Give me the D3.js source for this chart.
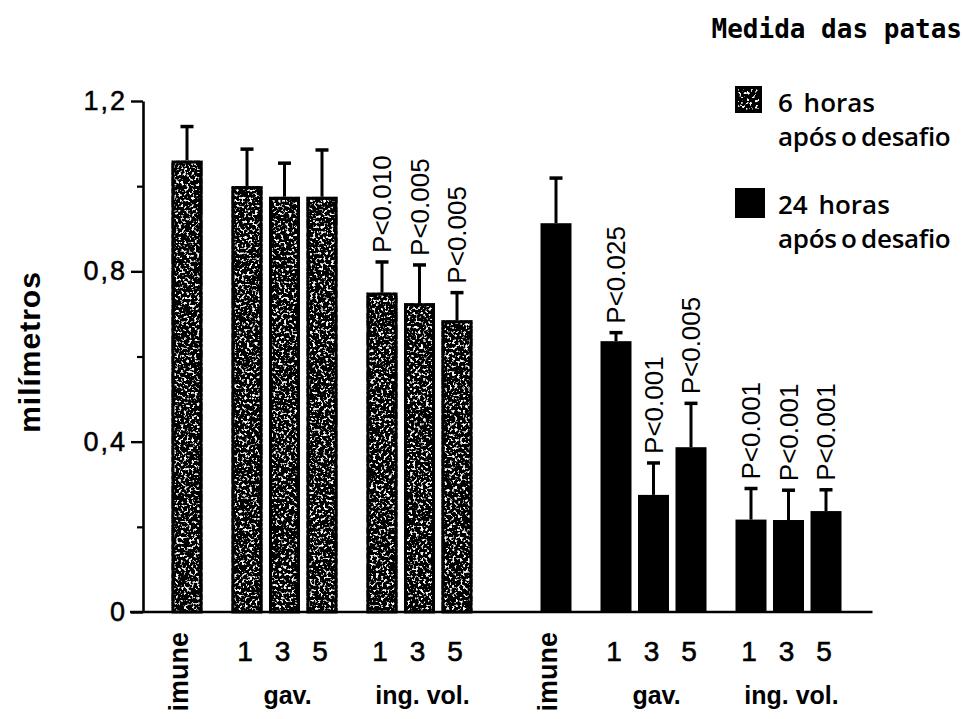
<!DOCTYPE html>
<html>
<head>
<meta charset="utf-8">
<script src="https://cdn.jsdelivr.net/npm/d3@7"></script>
<style>
  body { margin: 0; background: #fff; }
  text { fill: #000; }
</style>
</head>
<body>
<svg id="chart" width="965" height="719"></svg>
<script>
// Data
const times = ['6 horas', '24 horas']
const groups = ['imune', 'gav.', 'ing. vol.']
const doses = ['1', '3', '5']
const bars = ['imune', 'gav. 1', 'gav. 3', 'gav. 5', 'ing. vol. 1', 'ing. vol. 3', 'ing. vol. 5']
const mean6h = [1.06, 1.00, 0.975, 0.975, 0.75, 0.725, 0.685]
const sd6h = [0.08, 0.087, 0.079, 0.11, 0.072, 0.09, 0.065]
const mean24h = [0.913, 0.636, 0.275, 0.387, 0.217, 0.216, 0.237]
const sd24h = [0.106, 0.02, 0.075, 0.103, 0.073, 0.07, 0.05]
const p6h = ['', '', '', '', 'P<0.010', 'P<0.005', 'P<0.005']
const p24h = ['', 'P<0.025', 'P<0.001', 'P<0.005', 'P<0.001', 'P<0.001', 'P<0.001']
const yTicks = [0, 0.4, 0.8, 1.2]
const yMinorTicks = [0.2, 0.6, 1.0]
const yLabel = 'milímetros'
const legendTitle = 'Medida das patas'
const legendSub = 'após o desafio'

const svg = d3.select('#chart')

// Speckled fill like the scanned grey bars
const defs = svg.append('defs')
const filt = defs.append('filter').attr('id', 'speckle')
    .attr('x', 0).attr('y', 0).attr('width', 1).attr('height', 1)
filt.append('feTurbulence').attr('type', 'fractalNoise')
    .attr('baseFrequency', 0.38).attr('numOctaves', 2).attr('seed', 7).attr('result', 'noise')
filt.append('feColorMatrix').attr('in', 'noise').attr('type', 'matrix')
    .attr('values', '1 0 0 0 0  1 0 0 0 0  1 0 0 0 0  0 0 0 0 1').attr('result', 'grey')
const ct = filt.append('feComponentTransfer').attr('in', 'grey').attr('result', 'bw')
;['feFuncR', 'feFuncG', 'feFuncB'].forEach(f => {
    ct.append(f).attr('type', 'linear').attr('slope', 8).attr('intercept', -4.5)
})
filt.append('feComposite').attr('in', 'bw').attr('in2', 'SourceGraphic').attr('operator', 'in')

// Scales
const y = d3.scaleLinear().domain([0, 1.2]).range([612, 101])
const xTime = d3.scalePoint().domain(times).range([187, 556])

// slot of each bar inside a time point (extra gap between groups)
const barGroup = bars.map(b => groups.find(g => b.startsWith(g)))
const slots = []
let s = 0
bars.forEach((b, i) => {
    if (i > 0 && barGroup[i] !== barGroup[i - 1]) s += 0.6
    slots.push(s)
    s += 1
})
const xSlot = d3.scaleLinear().domain([0, d3.max(slots)]).range([0, 270])
const barW = 31
const cx = (t, i) => xTime(t) + xSlot(slots[i])

// Y axis
const locale = d3.formatLocale({ decimal: ',', thousands: '.', grouping: [3], currency: ['', ''] })
const fmt = d => d === 0 ? '0' : locale.format('.1f')(d)
const axisX = 143

const yAxis = svg.append('g').attr('transform', `translate(${axisX},0)`)
    .call(d3.axisLeft(y).tickValues(yTicks).tickFormat(fmt).tickSize(12).tickSizeOuter(0).tickPadding(4))
yAxis.select('.domain').attr('stroke-width', 2.6)
yAxis.selectAll('.tick line').attr('stroke-width', 2.4)
yAxis.selectAll('.tick text')
    .attr('font-family', 'Liberation Sans, Arial, sans-serif')
    .attr('font-size', 27).attr('letter-spacing', 2)
    .attr('stroke', '#000').attr('stroke-width', 0.5)

const yMinor = svg.append('g').attr('transform', `translate(${axisX},0)`)
    .call(d3.axisLeft(y).tickValues(yMinorTicks).tickFormat('').tickSize(6).tickSizeOuter(0))
yMinor.select('.domain').remove()
yMinor.selectAll('.tick line').attr('stroke-width', 2.2)

svg.append('text')
    .attr('transform', `translate(40,352) rotate(-90)`)
    .attr('text-anchor', 'middle')
    .attr('font-family', 'Liberation Sans, Arial, sans-serif')
    .attr('font-weight', 'bold').attr('font-size', 30).attr('letter-spacing', 1)
    .text(yLabel)

// Bars
const series = [
    { time: times[0], mean: mean6h, sd: sd6h, p: p6h, textured: true },
    { time: times[1], mean: mean24h, sd: sd24h, p: p24h, textured: false }
]

series.forEach(ser => {
    const g = svg.append('g')
    bars.forEach((b, i) => {
        const c = cx(ser.time, i)
        const top = y(ser.mean[i])
        const errTop = y(ser.mean[i] + ser.sd[i])
        // error bar
        g.append('line').attr('x1', c).attr('x2', c).attr('y1', top).attr('y2', errTop)
            .attr('stroke', '#000').attr('stroke-width', 3)
        g.append('line').attr('x1', c - 6.5).attr('x2', c + 6.5).attr('y1', errTop).attr('y2', errTop)
            .attr('stroke', '#000').attr('stroke-width', 3.5)
        if (ser.textured) {
            g.append('rect').attr('x', c - barW / 2).attr('y', top)
                .attr('width', barW).attr('height', y(0) - top)
                .attr('fill', '#000').attr('filter', 'url(#speckle)')
            g.append('rect').attr('x', c - barW / 2 + 1.5).attr('y', top + 1.5)
                .attr('width', barW - 3).attr('height', y(0) - top - 1.5)
                .attr('fill', 'none').attr('stroke', '#000').attr('stroke-width', 3)
        } else {
            g.append('rect').attr('x', c - barW / 2).attr('y', top)
                .attr('width', barW).attr('height', y(0) - top)
                .attr('fill', '#000')
        }
        if (ser.p[i]) {
            g.append('text')
                .attr('transform', `translate(${c},${errTop - 9}) rotate(-90)`)
                .attr('dy', '0.35em')
                .attr('font-family', 'Liberation Sans, Arial, sans-serif')
                .attr('font-size', 26)
                .text(ser.p[i])
        }
    })

    // x labels
    const lab = svg.append('g')
        .attr('font-family', 'Liberation Sans, Arial, sans-serif')
    lab.append('text')
        .attr('transform', `translate(${cx(ser.time, 0) + 1},${y(0) + 20}) rotate(-90)`)
        .attr('text-anchor', 'end')
        .attr('font-weight', 'bold').attr('font-size', 27)
        .text(groups[0])
    bars.forEach((b, i) => {
        if (i === 0) return
        lab.append('text')
            .attr('x', cx(ser.time, i) - 2).attr('y', 661)
            .attr('text-anchor', 'middle').attr('font-size', 28)
            .attr('stroke', '#000').attr('stroke-width', 0.6)
            .text(doses[(i - 1) % doses.length])
    })
    groups.slice(1).forEach(gr => {
        const idx = bars.map((b, i) => i).filter(i => barGroup[i] === gr)
        lab.append('text')
            .attr('x', d3.mean(idx, i => cx(ser.time, i)) + 3).attr('y', 704)
            .attr('text-anchor', 'middle')
            .attr('font-weight', 'bold').attr('font-size', 25)
            .text(gr)
    })
})

// x baseline
svg.append('line')
    .attr('x1', axisX - 13).attr('x2', cx(times[1], bars.length - 1) + barW / 2 + 31)
    .attr('y1', y(0)).attr('y2', y(0))
    .attr('stroke', '#000').attr('stroke-width', 2.6)

// Legend
const leg = svg.append('g')
leg.append('text').attr('x', 962).attr('y', 38).attr('text-anchor', 'end')
    .attr('font-family', 'DejaVu Sans Mono, monospace').attr('font-weight', 'bold').attr('font-size', 26)
    .text(legendTitle)

const legItems = [
    { label: times[0], textured: true, y: 86, size: 27 },
    { label: times[1], textured: false, y: 188, size: 30 }
]
legItems.forEach(it => {
    if (it.textured) {
        leg.append('rect').attr('x', 735).attr('y', it.y).attr('width', it.size).attr('height', it.size)
            .attr('fill', '#000').attr('filter', 'url(#speckle)')
        leg.append('rect').attr('x', 736.5).attr('y', it.y + 1.5).attr('width', it.size - 3).attr('height', it.size - 3)
            .attr('fill', 'none').attr('stroke', '#000').attr('stroke-width', 3)
    } else {
        leg.append('rect').attr('x', 735).attr('y', it.y).attr('width', it.size).attr('height', it.size)
            .attr('fill', '#000')
    }
    const t = leg.append('g').attr('font-family', 'Open Sans, sans-serif')
        .attr('font-weight', 600).attr('font-size', 26)
    t.append('text').attr('x', 778).attr('y', it.y + 26).attr('word-spacing', 4).text(it.label)
    t.append('text').attr('x', 778).attr('y', it.y + 60).attr('word-spacing', -2).attr('letter-spacing', -0.3).text(legendSub)
})
</script>
</body>
</html>
